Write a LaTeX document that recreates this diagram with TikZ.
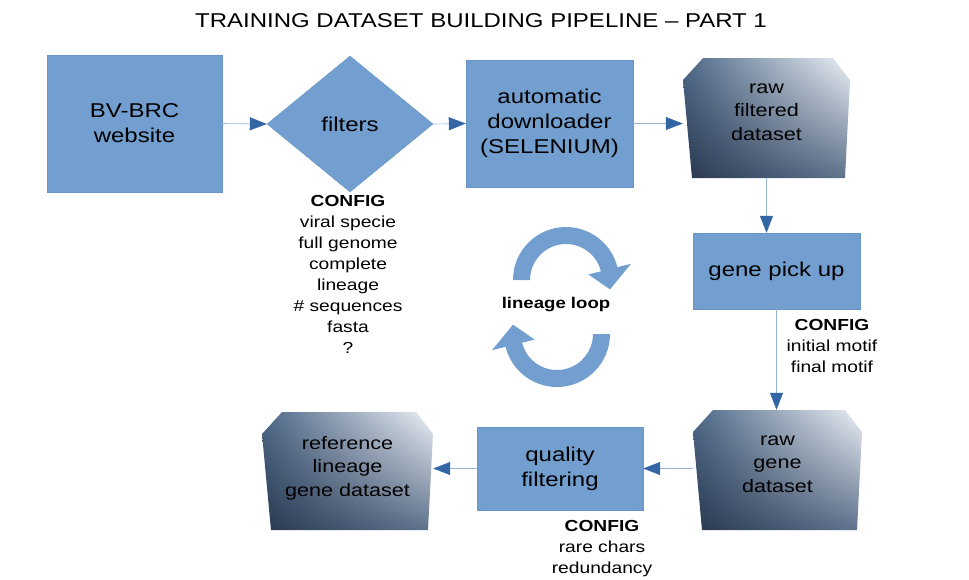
\documentclass[tikz,border=0pt]{standalone}
\usepackage{fontspec}
\setmainfont{Liberation Sans}[FakeStretch=1.2]
\usetikzlibrary{shapes.geometric,arrows.meta,shadings}
\definecolor{boxblue}{RGB}{114,159,207}
\definecolor{boxedge}{RGB}{104,148,198}
\definecolor{headblue}{RGB}{52,101,164}
\definecolor{linecol}{RGB}{150,180,215}
\definecolor{dsdark}{RGB}{40,56,80}
\definecolor{dsul}{RGB}{78,104,136}
\definecolor{dsur}{RGB}{236,240,245}
\definecolor{dslr}{RGB}{96,116,142}
\begin{document}
\begin{tikzpicture}[x=1pt,y=1pt,
  proc/.style={rectangle, fill=boxblue, draw=boxedge, line width=0.4pt, inner sep=0pt, align=center, font=\fontsize{20}{25}\selectfont},
  dec/.style={diamond, fill=boxblue, draw=boxedge, line width=0.4pt, inner sep=0pt, font=\fontsize{20}{25}\selectfont},
  dataset/.style={rectangle, inner sep=0pt,
    path picture={
      \shade[upper left=dsul, upper right=dsur, lower left=dsdark, lower right=dslr]
        ([xshift=20pt]path picture bounding box.north west) --
        ([xshift=-17pt]path picture bounding box.north east) --
        ([yshift=-22pt]path picture bounding box.north east) --
        ([xshift=-5pt]path picture bounding box.south east) --
        ([xshift=9pt]path picture bounding box.south west) --
        ([yshift=-22pt]path picture bounding box.north west) -- cycle;
    }},
  dstext/.style={inner sep=0pt, align=center, font=\fontsize{18}{23.5}\selectfont},
  conn/.style={draw=linecol, line width=0.6pt, -{Triangle[length=17pt,width=13pt,color=headblue,fill=headblue]}},
  cfg/.style={align=center, inner sep=0pt, anchor=north, font=\fontsize{16}{21}\selectfont},
  loopfill/.style={fill=boxblue},
]
\useasboundingbox (0,0) rectangle (969,-579);

\node[font=\fontsize{20}{24}\selectfont] (title) at (481,-21) {TRAINING DATASET BUILDING PIPELINE – PART 1};

\node[proc, minimum width=175pt, minimum height=137pt] (bv) at (134.5,-123.5) {BV-BRC\\website};
\node[dec, minimum width=166pt, minimum height=136pt] (filt) at (350,-124) {filters};
\node[proc, minimum width=167pt, minimum height=127pt] (dl) at (549.5,-123.5) {automatic\\downloader\\(SELENIUM)};
\node[dataset, minimum width=167pt, minimum height=120pt] (rawf) at (766.5,-118) {};
\node[dstext] (rawft) at (766.5,-112) {raw\\filtered\\dataset};
\node[proc, minimum width=167pt, minimum height=76pt] (gp) at (776.5,-271) {gene pick up};
\node[dataset, minimum width=169pt, minimum height=120pt] (rawg) at (777.5,-470) {};
\node[dstext] (rawgt) at (777.5,-464) {raw\\gene\\dataset};
\node[proc, minimum width=166pt, minimum height=83pt] (qf) at (560,-468.5) {quality\\filtering};
\node[dataset, minimum width=171pt, minimum height=118pt] (ref) at (347.5,-471) {};
\node[dstext] (reft) at (347.5,-468) {reference\\lineage\\gene dataset};

\node[cfg] (cfg1) at (348,-195.5) {\textbf{CONFIG}\\viral specie\\full genome\\complete\\lineage\\\# sequences\\fasta\\?};
\node[cfg] (cfg2) at (832,-319.5) {\textbf{CONFIG}\\initial motif\\final motif};
\node[cfg] (cfg3) at (602,-520) {\textbf{CONFIG}\\rare chars\\redundancy};

\draw[conn] (bv.east) -- (filt.west);
\draw[conn] (filt.east) -- (dl.west);
\draw[conn] (dl.east) -- (dl.east -| rawf.west);
\draw[conn] (rawf.south) -- (rawf.south |- gp.north);
\draw[conn] (gp.south) -- (gp.south |- rawg.north);
\draw[conn] (qf.east -| rawg.west) -- (qf.east);
\draw[conn] (qf.west) -- (qf.west -| ref.east);

% lineage loop
\fill[loopfill, shift={(566,-280)}]
  (180:53) arc[start angle=180, end angle=14, radius=53] -- (14:67) -- (-12:45) -- (14:23) -- (14:36)
  arc[start angle=14, end angle=180, radius=36] -- cycle;
\fill[loopfill, shift={(557,-334)}, rotate=180]
  (180:53) arc[start angle=180, end angle=14, radius=53] -- (14:67) -- (-12:45) -- (14:23) -- (14:36)
  arc[start angle=14, end angle=180, radius=36] -- cycle;
\node[font=\bfseries\fontsize{15.5}{20}\selectfont] (loop) at (556,-305) {lineage loop};
\end{tikzpicture}
\end{document}
